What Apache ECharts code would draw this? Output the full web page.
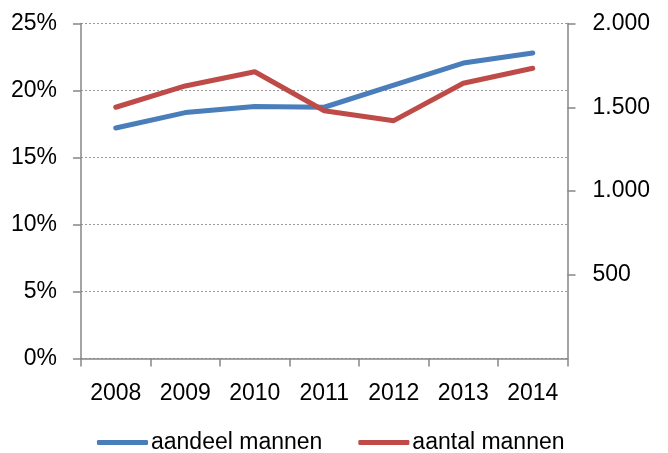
<!DOCTYPE html>
<html><head><meta charset="utf-8">
<script src="https://cdn.jsdelivr.net/npm/echarts@6/dist/echarts.min.js"></script>
<style>html,body{margin:0;padding:0;background:#fff}#c{width:668px;height:453px}</style>
</head><body><div id="c"></div>
<script>
var years = ['2008','2009','2010','2011','2012','2013','2014'];
var aandeel = [17.2, 18.35, 18.8, 18.75, 20.4, 22.05, 22.8];
var aantal = [1500, 1627, 1712, 1479, 1420, 1643, 1733];
var leftTicks = {min: 0, max: 25, interval: 5};
var rightTicks = {min: 0, max: 2000, interval: 500};
var names = ['aandeel mannen', 'aantal mannen'];

var font = 'Liberation Sans';
var axisColor = '#868686';
function thousands(v){ return String(v).replace(/\B(?=(\d{3})+(?!\d))/g, '.'); }
var chart = echarts.init(document.getElementById('c'), null, {renderer:'canvas'});
chart.setOption({
  animation: false,
  textStyle: {fontFamily: font},
  grid: {left: 81, right: 100.5, top: 23.5, bottom: 94.5, containLabel: false},
  legend: {
    top: 426, left: 92, itemGap: 36, itemWidth: 51, itemHeight: 5, icon: 'roundRect',
    textStyle: {fontFamily: font, fontSize: 23, color: '#000', padding: [0,0,0,-2]},
    data: names
  },
  xAxis: {
    type: 'category', data: years, boundaryGap: true,
    axisLine: {lineStyle: {color: axisColor, width: 1.5}},
    axisTick: {show: true, interval: 0, length: 8, lineStyle: {color: axisColor, width: 1.5}},
    axisLabel: {fontSize: 23, color: '#000', margin: 24, fontFamily: font}
  },
  yAxis: [{
    type: 'value', min: leftTicks.min, max: leftTicks.max, interval: leftTicks.interval,
    axisLine: {show: true, lineStyle: {color: axisColor, width: 1.5}},
    axisTick: {show: true, length: 8, lineStyle: {color: axisColor, width: 1.5}},
    axisLabel: {fontSize: 23, color: '#000', margin: 24, formatter: function(v){return v + '%';}, fontFamily: font},
    splitLine: {show: true, lineStyle: {color: '#9a9a9a', type: [2,2], width: 1}}
  }, {
    type: 'value', min: rightTicks.min, max: rightTicks.max, interval: rightTicks.interval, position: 'right',
    axisLine: {show: true, lineStyle: {color: axisColor, width: 1.5}},
    axisTick: {show: true, length: 8, lineStyle: {color: axisColor, width: 1.5}},
    axisLabel: {fontSize: 23, color: '#000', margin: 25, showMinLabel: false, fontFamily: font,
      formatter: function(v){ return v === 0 ? '' : thousands(v); }},
    splitLine: {show: false}
  }],
  series: [{
    name: names[0], type: 'line', yAxisIndex: 0, data: aandeel, showSymbol: false, symbol: 'none',
    lineStyle: {color: '#4A7EBB', width: 5, cap: 'round', join: 'round'}, itemStyle: {color: '#4A7EBB'}
  }, {
    name: names[1], type: 'line', yAxisIndex: 1, data: aantal, showSymbol: false, symbol: 'none',
    lineStyle: {color: '#BE4B48', width: 5, cap: 'round', join: 'round'}, itemStyle: {color: '#BE4B48'}
  }]
});
</script></body></html>
